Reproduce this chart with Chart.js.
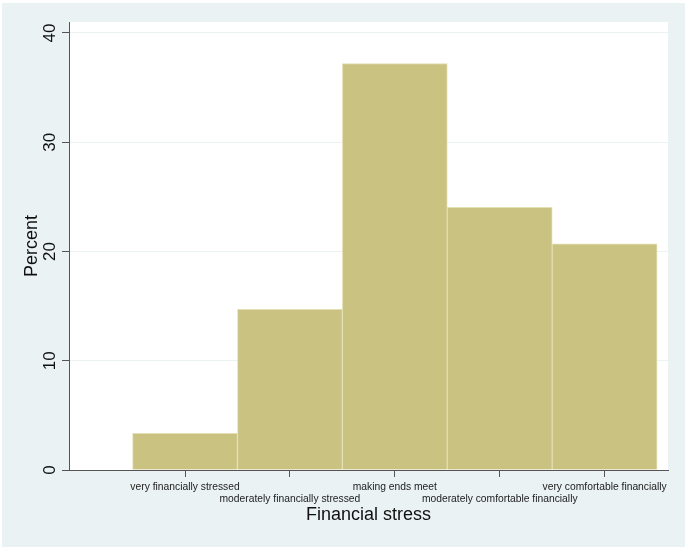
<!DOCTYPE html>
<html>
<head>
<meta charset="utf-8">
<script src="https://cdn.jsdelivr.net/npm/chart.js@4/dist/chart.umd.min.js"></script>
<style>
html,body{margin:0;padding:0;background:#fff;}
#wrap{width:688px;height:550px;}
</style>
</head>
<body>
<div id="wrap"><canvas id="c" width="688" height="550"></canvas></div>
<script>
const categories = ["very financially stressed","moderately financially stressed","making ends meet","moderately comfortable financially","very comfortable financially"];
const categoryCodes = [1,2,3,4,5];
const percentValues = [3.36, 14.7, 37.2, 24.04, 20.7];
const yTickValues = [0,10,20,30,40];
const yTitle = "Percent";
const xTitle = "Financial stress";

const FONT = "'Liberation Sans', Arial, Helvetica, sans-serif";

const bgPlugin = {
  id:'bg',
  beforeDraw(chart){
    const ctx = chart.ctx, a = chart.chartArea;
    ctx.save();
    ctx.fillStyle = '#ffffff';
    ctx.fillRect(0,0,chart.width,chart.height);
    ctx.fillStyle = '#EAF2F3';
    ctx.fillRect(2,3,683,544);
    ctx.fillStyle = '#ffffff';
    ctx.fillRect(a.left,a.top,a.right-a.left,a.bottom-a.top);
    ctx.restore();
  },
  afterDraw(chart){
    const ctx = chart.ctx, ys = chart.scales.y;
    ctx.save();
    ctx.fillStyle = '#111';
    ctx.font = "17px " + FONT;
    ctx.textAlign = 'center';
    ctx.textBaseline = 'alphabetic';
    ys.ticks.forEach(t => {
      const py = ys.getPixelForValue(t.value);
      ctx.save();
      ctx.translate(55, py);
      ctx.rotate(-Math.PI/2);
      ctx.fillText(String(t.value), 0, 0);
      ctx.restore();
    });
    ctx.restore();
  }
};

new Chart(document.getElementById('c'), {
  type:'bar',
  data:{
    datasets:[{
      data: categoryCodes.map((x,i)=>({x:x, y:percentValues[i]})),
      backgroundColor:'#C9C281',
      borderColor:'#E3DEB3',
      borderWidth:1,
      barPercentage:1,
      categoryPercentage:1
    }]
  },
  options:{
    responsive:false,
    animation:false,
    layout:{padding:{left:0,top:22,right:20,bottom:0}},
    plugins:{legend:{display:false},tooltip:{enabled:false}},
    scales:{
      x:{
        type:'linear',
        offset:false,
        min:-0.106, max:5.604,
        afterBuildTicks(s){ s.ticks = categoryCodes.map(v=>({value:v})); },
        afterFit(s){ s.height = 80; },
        grid:{offset:false, drawOnChartArea:false, drawTicks:true, tickLength:7, tickColor:'#555'},
        border:{display:true, color:'#555', width:1},
        ticks:{
          autoSkip:false, maxRotation:0, minRotation:0, padding:4,
          color:'#222',
          font:{family:FONT, size:10.3, lineHeight:1.15},
          callback(v, i){ const lab = categories[i]; return i % 2 === 0 ? [lab] : ['', lab]; }
        },
        title:{display:true, text:xTitle, color:'#111', font:{family:FONT, size:18, lineHeight:1.2}, padding:{top:0,bottom:24}}
      },
      y:{
        min:0, max:41,
        afterBuildTicks(s){ s.ticks = yTickValues.map(v=>({value:v})); },
        afterFit(s){ s.width = 69; },
        grid:{drawOnChartArea:true, color:'#EAF2F3', lineWidth:1, drawTicks:true, tickLength:7, tickColor:'#555'},
        border:{display:true, color:'#555', width:1},
        ticks:{display:false},
        title:{display:true, text:yTitle, color:'#111', font:{family:FONT, size:18, lineHeight:1.2}, padding:{top:21,bottom:0}}
      }
    }
  },
  plugins:[bgPlugin]
});
</script>
</body>
</html>
